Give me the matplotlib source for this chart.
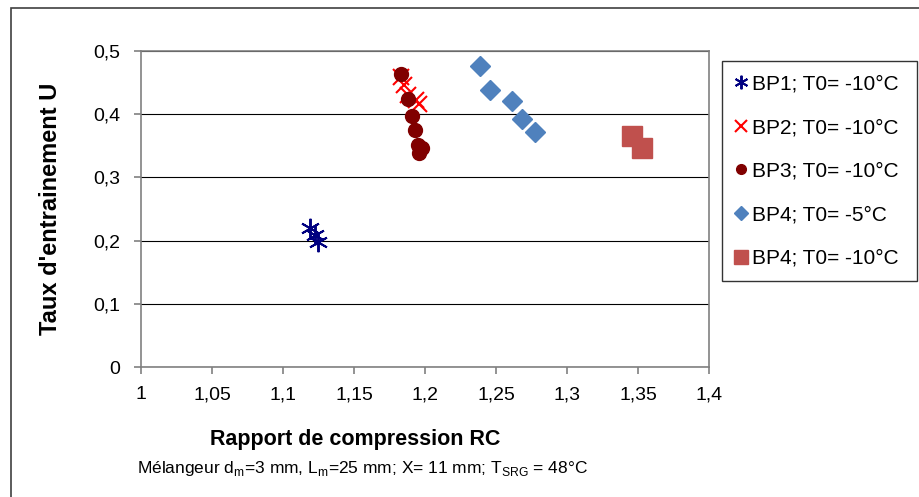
import matplotlib
matplotlib.use('Agg')
import matplotlib.pyplot as plt
from matplotlib.patches import Rectangle

plt.rcParams['font.family'] = ['Liberation Sans', 'DejaVu Sans']
plt.rcParams['mathtext.fontset'] = 'custom'
plt.rcParams['mathtext.rm'] = 'Liberation Sans'

# donnees
bp1_x = [1.119, 1.1225, 1.1246]
bp1_y = [0.220, 0.209, 0.198]
bp2_x = [1.183, 1.185, 1.188, 1.194, 1.196]
bp2_y = [0.459, 0.446, 0.430, 0.422, 0.416]
bp3_x = [1.1831, 1.1880, 1.1908, 1.1930, 1.1951, 1.1979, 1.1961]
bp3_y = [0.464, 0.424, 0.397, 0.375, 0.351, 0.346, 0.338]
bp4a_x = [1.2387, 1.2458, 1.2611, 1.2681, 1.2775]
bp4a_y = [0.476, 0.439, 0.421, 0.392, 0.372]
bp4b_x = [1.346, 1.353]
bp4b_y = [0.366, 0.347]

x_ticks = [1, 1.05, 1.1, 1.15, 1.2, 1.25, 1.3, 1.35, 1.4]
x_labels = ['1', '1,05', '1,1', '1,15', '1,2', '1,25', '1,3', '1,35', '1,4']
y_ticks = [0, 0.1, 0.2, 0.3, 0.4, 0.5]
y_labels = ['0', '0,1', '0,2', '0,3', '0,4', '0,5']

fig = plt.figure(figsize=(9.2, 4.97), dpi=100)
ax = fig.add_axes([141/920, 1-367/497, 568/920, 316/497])

ax.plot(bp1_x, bp1_y, ls='none', marker=(6, 2, 0), ms=14, mew=1.4, color='#000080', label='BP1; T0= -10°C')
ax.plot(bp2_x, bp2_y, ls='none', marker='x', ms=12, mew=1.5, color='#FF0000', label='BP2; T0= -10°C')
ax.plot(bp3_x, bp3_y, ls='none', marker='o', ms=10, color='#800000', label='BP3; T0= -10°C')
ax.plot(bp4a_x, bp4a_y, ls='none', marker='D', ms=10, color='#4F81BD', label='BP4; T0= -5°C')
ax.plot(bp4b_x, bp4b_y, ls='none', marker='s', ms=14, color='#C0504D', label='BP4; T0= -10°C')

ax.set_xlim(1, 1.4)
ax.set_ylim(0, 0.5)
ax.set_xticks(x_ticks)
ax.set_xticklabels(x_labels)
ax.set_yticks(y_ticks)
ax.set_yticklabels(y_labels)
ax.tick_params(labelsize=14, direction='out', length=5, color='#808080', width=1.2)
ax.tick_params(axis='x', pad=9)
ax.tick_params(axis='y', pad=10)
ax.grid(axis='y', color='black', lw=0.8)
ax.set_axisbelow(True)
for s in ax.spines.values():
    s.set_color('#808080')
    s.set_linewidth(1.2)

ax.set_ylabel("Taux d'entrainement U", fontsize=17, fontweight='bold', labelpad=22)
fig.text(355/920, 1-440/497, 'Rapport de compression RC', fontsize=15.5, fontweight='bold', ha='center', va='center')
fig.text(362/920, 1-468/497,
         r'Mélangeur d$_\mathregular{m}$=3 mm, L$_\mathregular{m}$=25 mm; X= 11 mm; T$_\mathregular{SRG}$ = 48°C',
         fontsize=12.5, ha='center', va='center')

leg = ax.legend(loc='upper left', bbox_to_anchor=(722/920, 1-275/497, 195/920, 214/497),
                bbox_transform=fig.transFigure, mode='expand', fontsize=15, frameon=True,
                fancybox=False, edgecolor='black', borderaxespad=0, handlelength=0.5,
                handletextpad=0.3, labelspacing=1.18, borderpad=0.65, markerscale=0.7)
leg.get_frame().set_linewidth(1.0)

fig.patches.append(Rectangle((11/920, -0.1), 2, 1.1 - 8/497, transform=fig.transFigure,
                             fill=False, edgecolor='#404040', lw=1.2))

fig.savefig('out.png', dpi=100)
